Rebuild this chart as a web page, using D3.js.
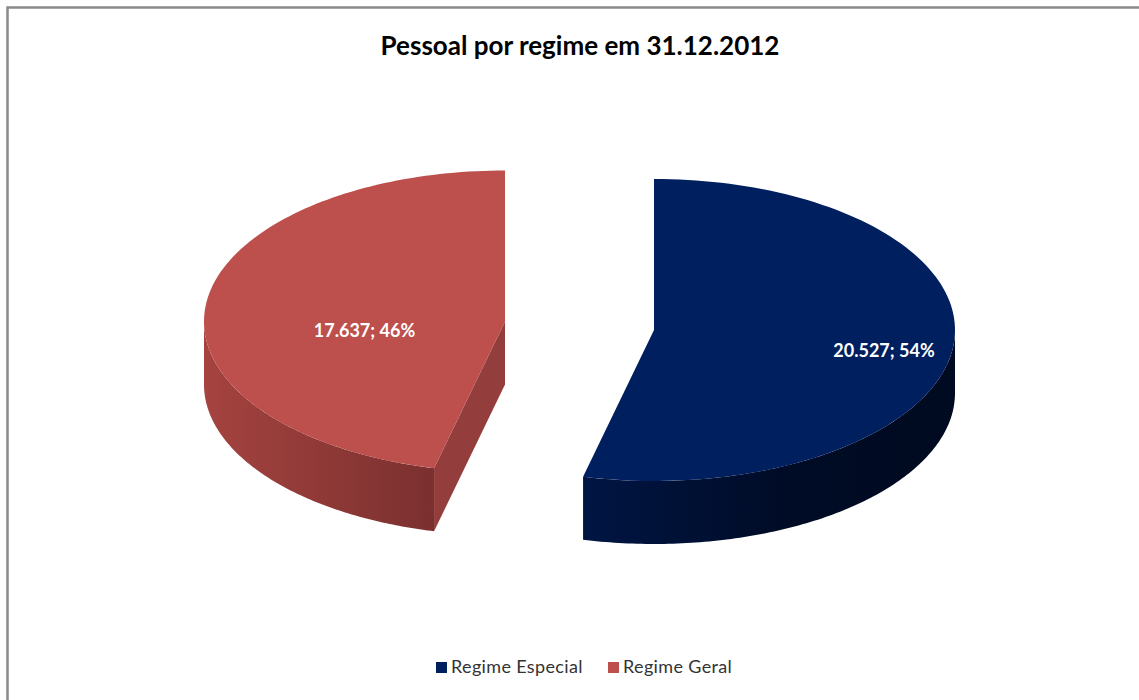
<!DOCTYPE html>
<html lang="pt">
<head>
<meta charset="utf-8">
<title>Pessoal por regime em 31.12.2012</title>
<script src="https://cdn.jsdelivr.net/npm/d3@7/dist/d3.min.js"></script>
<style>
  html, body { margin: 0; padding: 0; background: #fff; }
  svg { display: block; }
  text { font-family: Lato, "Open Sans", sans-serif; }
</style>
</head>
<body>
<svg id="chart" width="1139" height="700"></svg>
<script>
const chartTitle = "Pessoal por regime em 31.12.2012";
const categories = ["Regime Especial", "Regime Geral"];
const values = [20527, 17637];
const percents = [54, 46];
const valueLabels = ["20.527", "17.637"];
const topColors = ["#001f5f", "#bd4f4c"];
const sideLight = ["#001544", "#a5433f"];
const sideDark = ["#000c26", "#7a302f"];
const faceColors = ["#001544", "#933e3c"];

const width = 1139, height = 700;
const radiusX = 301, radiusY = 151, depth = 63;
// Each slice is pulled away from the pie along its own direction.
const centres = [{ x: 654, y: 330 }, { x: 505, y: 321.5 }];
const labelPositions = [{ x: 884, y: 352 }, { x: 364.5, y: 332 }];

const svg = d3.select("#chart");
const defs = svg.append("defs");

// The frame only shows along the top and left edges.
svg.append("path")
  .attr("d", `M7.5,${height} V7.5 H${width}`)
  .attr("fill", "none").attr("stroke", "#8a8a8a").attr("stroke-width", 2.5);

svg.append("text")
  .attr("x", 580).attr("y", 55)
  .attr("text-anchor", "middle")
  .attr("font-size", 26).attr("font-weight", 700).attr("fill", "#000")
  .text(chartTitle);

const arcs = d3.pie().sort(null).value(d => d)(values);

// Tilted disc: an angle measured clockwise from 12 o'clock lands on an ellipse.
const px = d3.scaleLinear().domain([-1, 1]).range([-radiusX, radiusX]);
const py = d3.scaleLinear().domain([-1, 1]).range([-radiusY, radiusY]);
const rim = (c, a, dy = 0) => [c.x + px(Math.sin(a)), c.y + py(-Math.cos(a)) + dy];

function rimPath(c, a0, a1, dy = 0, move = true) {
  const steps = d3.range(0, 121).map(i => a0 + (a1 - a0) * i / 120);
  const line = d3.line()(steps.map(a => rim(c, a, dy)));
  return move ? line : "L" + line.slice(1);
}

// Only the part of the rim in the lower half of the ellipse faces the viewer.
function visibleRange(a) {
  const from = Math.max(a.startAngle, Math.PI / 2);
  const to = Math.min(a.endAngle, 3 * Math.PI / 2);
  return [from, to];
}

const slices = svg.selectAll("g.slice").data(arcs).join("g").attr("class", "slice");

slices.each(function (a, i) {
  const g = d3.select(this);
  const c = centres[i];
  const [from, to] = visibleRange(a);

  // Horizontal shading across the curved wall.
  const xs = [rim(c, from)[0], rim(c, to)[0]];
  const gradId = "wall" + i;
  const grad = defs.append("linearGradient").attr("id", gradId)
    .attr("gradientUnits", "userSpaceOnUse")
    .attr("x1", d3.min(xs)).attr("x2", d3.max(xs)).attr("y1", 0).attr("y2", 0);
  if (i === 0) {
    grad.append("stop").attr("offset", 0).attr("stop-color", sideLight[i]);
    grad.append("stop").attr("offset", 0.55).attr("stop-color", sideDark[i]);
    grad.append("stop").attr("offset", 1).attr("stop-color", "#000a20");
  } else {
    grad.append("stop").attr("offset", 0).attr("stop-color", sideLight[i]);
    grad.append("stop").attr("offset", 1).attr("stop-color", sideDark[i]);
  }

  // The cut face is only visible on the slice left of the gap.
  if (i === 1) {
    const p = rim(c, a.startAngle);
    g.append("path")
      .attr("d", d3.line()([[c.x, c.y], p, [p[0], p[1] + depth], [c.x, c.y + depth]]) + "Z")
      .attr("fill", faceColors[i]);
  }

  g.append("path")
    .attr("d", rimPath(c, from, to) + rimPath(c, to, from, depth, false) + "Z")
    .attr("fill", `url(#${gradId})`);

  g.append("path")
    .attr("d", `M${c.x},${c.y}` + rimPath(c, a.startAngle, a.endAngle, 0, false) + "Z")
    .attr("fill", topColors[i]);

  g.append("text")
    .attr("x", labelPositions[i].x).attr("y", labelPositions[i].y)
    .attr("text-anchor", "middle").attr("dominant-baseline", "middle")
    .attr("font-size", 18).attr("font-weight", 700).attr("fill", "#fff")
    .text(`${valueLabels[i]}; ${percents[i]}%`);
});

// Legend along the bottom.
const legendX = [436, 608];
const legend = svg.selectAll("g.key").data(categories).join("g")
  .attr("class", "key")
  .attr("transform", (d, i) => `translate(${legendX[i]},667)`);
legend.append("rect")
  .attr("x", 0).attr("y", -5).attr("width", 11).attr("height", 11)
  .attr("fill", (d, i) => topColors[i]);
legend.append("text")
  .attr("x", 15).attr("y", 1)
  .attr("dominant-baseline", "middle")
  .attr("font-size", 18).attr("letter-spacing", 0.35).attr("fill", "#333")
  .text(d => d);
</script>
</body>
</html>
